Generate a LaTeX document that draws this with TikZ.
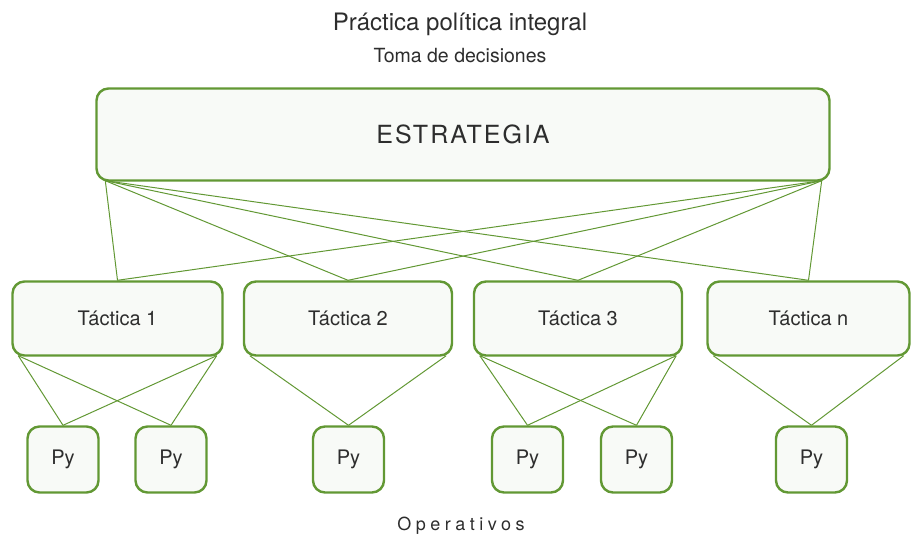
\documentclass[tikz,border=0pt]{standalone}
\usepackage{fontspec}
\setmainfont{TeX Gyre Heros}
\usepackage{tikz}
\usetikzlibrary{calc}
\definecolor{verde}{RGB}{98,152,52}
\definecolor{fondo}{RGB}{248,250,247}
\definecolor{texto}{RGB}{45,45,45}

\begin{document}
\begin{tikzpicture}[x=1pt,y=-1pt,
    caja/.style={draw=verde,fill=fondo,line width=2.4pt,rounded corners=12pt,text=texto,inner sep=0pt},
    tactica/.style={caja,minimum width=208pt,minimum height=74pt,font=\fontsize{20}{22}\selectfont},
    proyecto/.style={caja,minimum width=71pt,minimum height=66pt,font=\fontsize{20}{22}\selectfont},
    enlace/.style={draw=verde,line width=1pt}]
\useasboundingbox (0,0) rectangle (912,537);
\node[text=texto,font=\fontsize{24}{26}\selectfont](titulo)at(460,24){Práctica política integral};
\node[text=texto,font=\fontsize{19.5}{22}\selectfont](sub)at(460,56){Toma de decisiones};
\node[caja,minimum width=733pt,minimum height=92pt,font=\fontsize{25}{28}\selectfont\addfontfeatures{LetterSpace=8}](est)at(463,134.5){ESTRATEGIA};
\node[tactica,minimum width=210pt](t1)at(117.5,318.5){Táctica 1};
\node[tactica](t2)at(348,318.5){Táctica 2};
\node[tactica](t3)at(578,318.5){Táctica 3};
\node[tactica,minimum width=202pt](tn)at(808.5,318.5){Táctica n};
\node[proyecto](p1)at(63,459.5){Py};
\node[proyecto](p2)at(171,459.5){Py};
\node[proyecto](p3)at(348.5,459.5){Py};
\node[proyecto](p4)at(527.5,459.5){Py};
\node[proyecto](p5)at(636.5,459.5){Py};
\node[proyecto](p6)at(811.5,459.5){Py};
\node[text=texto,font=\fontsize{18}{20}\selectfont\addfontfeatures{LetterSpace=25}](oper)at(461,526){Operativos};
\coordinate (eL) at ([xshift=10pt,yshift=1pt]est.south west);
\coordinate (eR) at ([xshift=-9pt,yshift=1pt]est.south east);
\foreach \t in {t1,t2,t3,tn}{
  \draw[enlace] (eL)--(\t.north);
  \draw[enlace] (eR)--(\t.north);
}
\foreach \t/\p in {t1/p1,t1/p2,t2/p3,t3/p4,t3/p5,tn/p6}{
  \draw[enlace] ([xshift=7pt,yshift=1pt]\t.south west)--(\p.north);
  \draw[enlace] ([xshift=-7pt,yshift=1pt]\t.south east)--(\p.north);
}
\end{tikzpicture}
\end{document}
